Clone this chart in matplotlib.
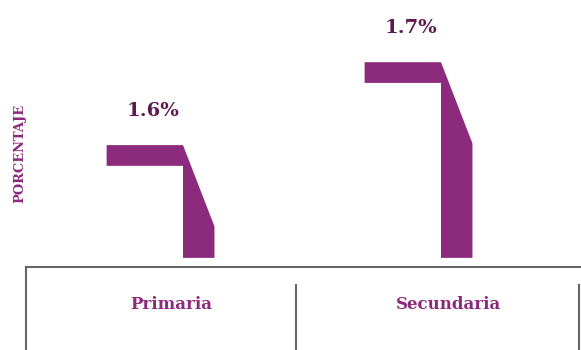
import matplotlib.pyplot as plt
from matplotlib.patches import Polygon
import matplotlib.transforms as mtransforms

categories = ["Primaria", "Secundaria"]
values = [1.6, 1.7]
value_labels = ["1.6%", "1.7%"]
y_label = "PORCENTAJE"

BAR_COLOR = "#8C2A7D"
LABEL_COLOR = "#5E1A50"
AXIS_COLOR = "#666666"
FONT = "DejaVu Serif"

# shape of the "7"-like bar, relative to the leg's left edge (x) / value (y)
LEFT, LEG_R = -0.296, 0.122
THICK, DROP = 0.025, 0.098
BASE = 1.464

fig = plt.figure(figsize=(5.81, 3.5), dpi=100)
ax = fig.add_axes([26 / 581, 83 / 350, 554 / 581, 267 / 350])
ax.set_xlim(-0.6085, 1.5388)
ax.set_ylim(1.453, 1.775)

for i, (v, lab) in enumerate(zip(values, value_labels)):
    pts = [
        (i + LEFT, v), (i, v), (i + LEG_R, v - DROP),
        (i + LEG_R, BASE), (i, BASE), (i, v - THICK),
        (i + LEFT, v - THICK),
    ]
    ax.add_patch(Polygon(pts, closed=True, facecolor=BAR_COLOR, edgecolor="none"))
    ax.text(i - 0.115, v + 0.041, lab, ha="center", va="center", fontsize=14,
            fontweight="bold", color=LABEL_COLOR, family=FONT)

for s in ["top", "right", "left"]:
    ax.spines[s].set_visible(False)
ax.spines["bottom"].set_color(AXIS_COLOR)
ax.spines["bottom"].set_linewidth(1.5)
ax.set_xticks([])
ax.set_yticks([])

# table-like frame under the axis
ta = ax.transAxes
ax.plot([0, 0], [0, -0.32], color=AXIS_COLOR, lw=1.5, transform=ta, clip_on=False)
for x in [0.487, 0.998]:
    ax.plot([x, x], [-0.067, -0.31], color=AXIS_COLOR, lw=1.5, transform=ta, clip_on=False)
for c, xc in zip(categories, [0.262, 0.762]):
    ax.text(xc, -0.139, c, ha="center", va="center", fontsize=12,
            fontweight="bold", color=BAR_COLOR, family=FONT, transform=ta)

fig.text(20 / 581, 1 - 153 / 350, y_label, rotation=90, ha="center", va="center",
         fontsize=9.4, fontweight="bold", color=BAR_COLOR, family=FONT)

fig.savefig("out.png", dpi=100)
